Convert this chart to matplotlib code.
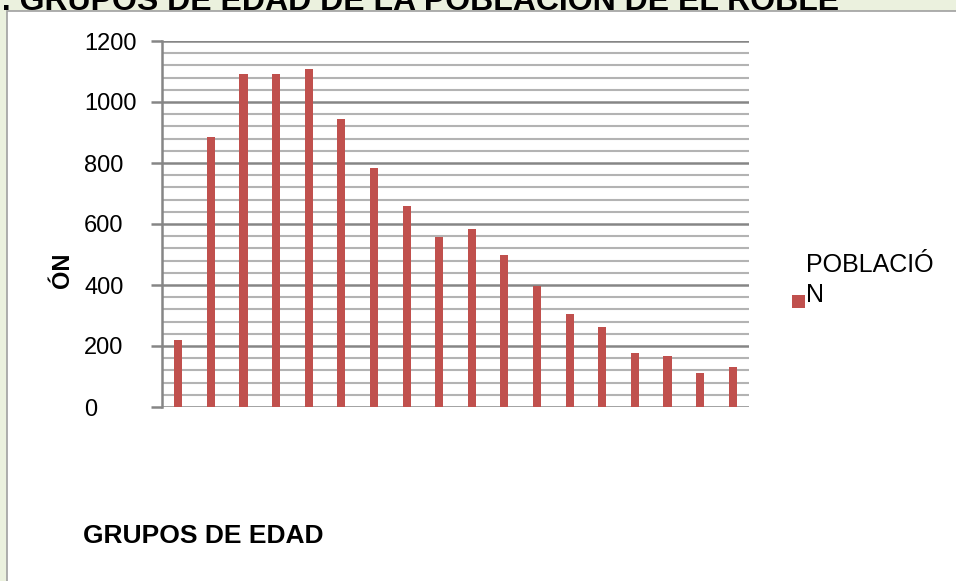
import numpy as np
import matplotlib
matplotlib.use('Agg')
import matplotlib.pyplot as plt
from matplotlib.patches import Rectangle

plt.rcParams['font.family'] = ['Liberation Sans', 'DejaVu Sans']

# population by age group (18 groups, no labels shown on the chart)
grupos = list(range(1, 19))
poblacion = [219, 885, 1092, 1092, 1108, 944, 784, 659, 557, 584,
             497, 398, 305, 263, 178, 168, 112, 132]

y_major = [0, 200, 400, 600, 800, 1000, 1200]
y_minor = list(range(0, 1201, 40))

titulo = 'I. GRUPOS DE EDAD DE LA POBLACIÓN DE EL ROBLE'
serie = 'POBLACIÓ\nN'

W, H = 956, 581
fig = plt.figure(figsize=(W / 100, H / 100), dpi=100)
fig.patch.set_facecolor('#ebf1de')

# white panel behind the chart
panel = Rectangle((7 / W, -0.1), 1.2, 1.1 - 11 / H,
                  transform=fig.transFigure, facecolor='white',
                  edgecolor='#a0a0a0', linewidth=1.2, zorder=-10)
fig.patches.append(panel)

fig.text(-7 / W, 1 - 10 / H, titulo, fontsize=23, fontweight='bold',
         ha='left', va='baseline', color='black')

left, right = 162 / W, 749 / W
bottom, top = 1 - 407 / H, 1 - 41 / H
ax = fig.add_axes([left, bottom, right - left, top - bottom])
ax.set_facecolor('none')

x = np.arange(len(grupos))
ax.bar(x, poblacion, width=0.25, color='#c0504d', zorder=3)

ax.set_xlim(-0.5, len(grupos) - 0.5)
ax.set_ylim(0, 1200)

ax.set_yticks(y_minor, minor=True)
ax.set_yticks(y_major)
ax.set_yticklabels([str(v) for v in y_major], ha='left')
ax.tick_params(axis='y', which='major', length=8, width=1.8, color='#868686',
               labelsize=17, pad=48)
ax.tick_params(axis='y', which='minor', length=0)
ax.set_xticks([])

ax.grid(axis='y', which='minor', color='#b3b3b3', linewidth=1.5)
ax.grid(axis='y', which='major', color='#868686', linewidth=1.8)
ax.set_axisbelow(True)

for s in ['top', 'right', 'bottom']:
    ax.spines[s].set_visible(False)
ax.spines['left'].set_color('#868686')
ax.spines['left'].set_linewidth(1.8)

fig.text(63 / W, 1 - 270 / H, 'ÓN', rotation=90, fontsize=17,
         fontweight='bold', ha='center', va='center')
fig.text(83 / W, 1 - 536 / H, 'GRUPOS DE EDAD', fontsize=19,
         fontweight='bold', ha='left', va='center')

# legend entry
fig.patches.append(Rectangle((792 / W, 1 - 308 / H), 13 / W, 13 / H,
                             transform=fig.transFigure, facecolor='#c0504d',
                             edgecolor='none'))
fig.text(806 / W, 1 - 302 / H, serie, fontsize=18, ha='left',
         va='baseline', linespacing=1.3)

fig.savefig('out.png', dpi=100, facecolor=fig.get_facecolor())
